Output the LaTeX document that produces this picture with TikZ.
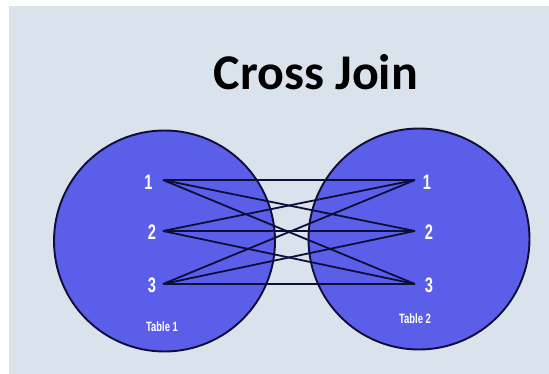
\documentclass[tikz,border=0pt]{standalone}
\usepackage{fontspec}
\setmainfont{Liberation Sans}
\newfontfamily\titlefont{Carlito}
\usetikzlibrary{positioning}
\definecolor{slidebg}{HTML}{DAE2EC}
\definecolor{setblue}{HTML}{5B5EE8}
\definecolor{rimnavy}{HTML}{0E0E38}
\newcommand{\narrowtxt}[1]{\scalebox{0.7}[1]{#1}}
\tikzstyle{tablecircle} = [circle, 
minimum size=221pt, 
inner sep=0pt,
fill=setblue, 
draw=rimnavy, 
line width=1.9pt]
\tikzstyle{num} = [text=white, font=\bfseries\fontsize{21}{21}\selectfont, inner sep=0pt]
\tikzstyle{tablename} = [text=white, font=\bfseries\fontsize{13.5}{13.5}\selectfont, inner sep=0pt]
\tikzstyle{pair} = [line width=1.8pt, draw=rimnavy]
\begin{document}
\begin{tikzpicture}[x=1pt,y=-1pt]
\fill[white] (0,0) rectangle (549,374);
\fill[slidebg] (9,6) rectangle (549,374);
\useasboundingbox (0,0) rectangle (549,374);
\node (title) [anchor=base, font=\titlefont\bfseries\fontsize{50}{50}\selectfont] at (316,90) {Cross Join};
\node (t1) [tablecircle] at (164.5,241) {};
\node (t2) [tablecircle] at (419,239) {};
%left table rows
\node (a1) [num] at (148.5,182) {\narrowtxt{1}};
\node (a2) [num] at (152,232) {\narrowtxt{2}};
\node (a3) [num] at (152,285) {\narrowtxt{3}};
%right table rows
\node (b1) [num] at (427,182) {\narrowtxt{1}};
\node (b2) [num] at (429,232) {\narrowtxt{2}};
\node (b3) [num] at (429,285) {\narrowtxt{3}};
\node (n1) [tablename] at (162,327) {\narrowtxt{Table 1}};
\node (n2) [tablename] at (415,319) {\narrowtxt{Table 2}};
\coordinate (l1) at (163,180);
\coordinate (l2) at (163,231);
\coordinate (l3) at (163,284);
\coordinate (r1) at (415,180);
\coordinate (r2) at (415,231);
\coordinate (r3) at (415,284);
\foreach \i in {1,2,3}
  \foreach \j in {1,2,3}
    \draw [pair] (l\i) -- (r\j);
\end{tikzpicture}
\end{document}
